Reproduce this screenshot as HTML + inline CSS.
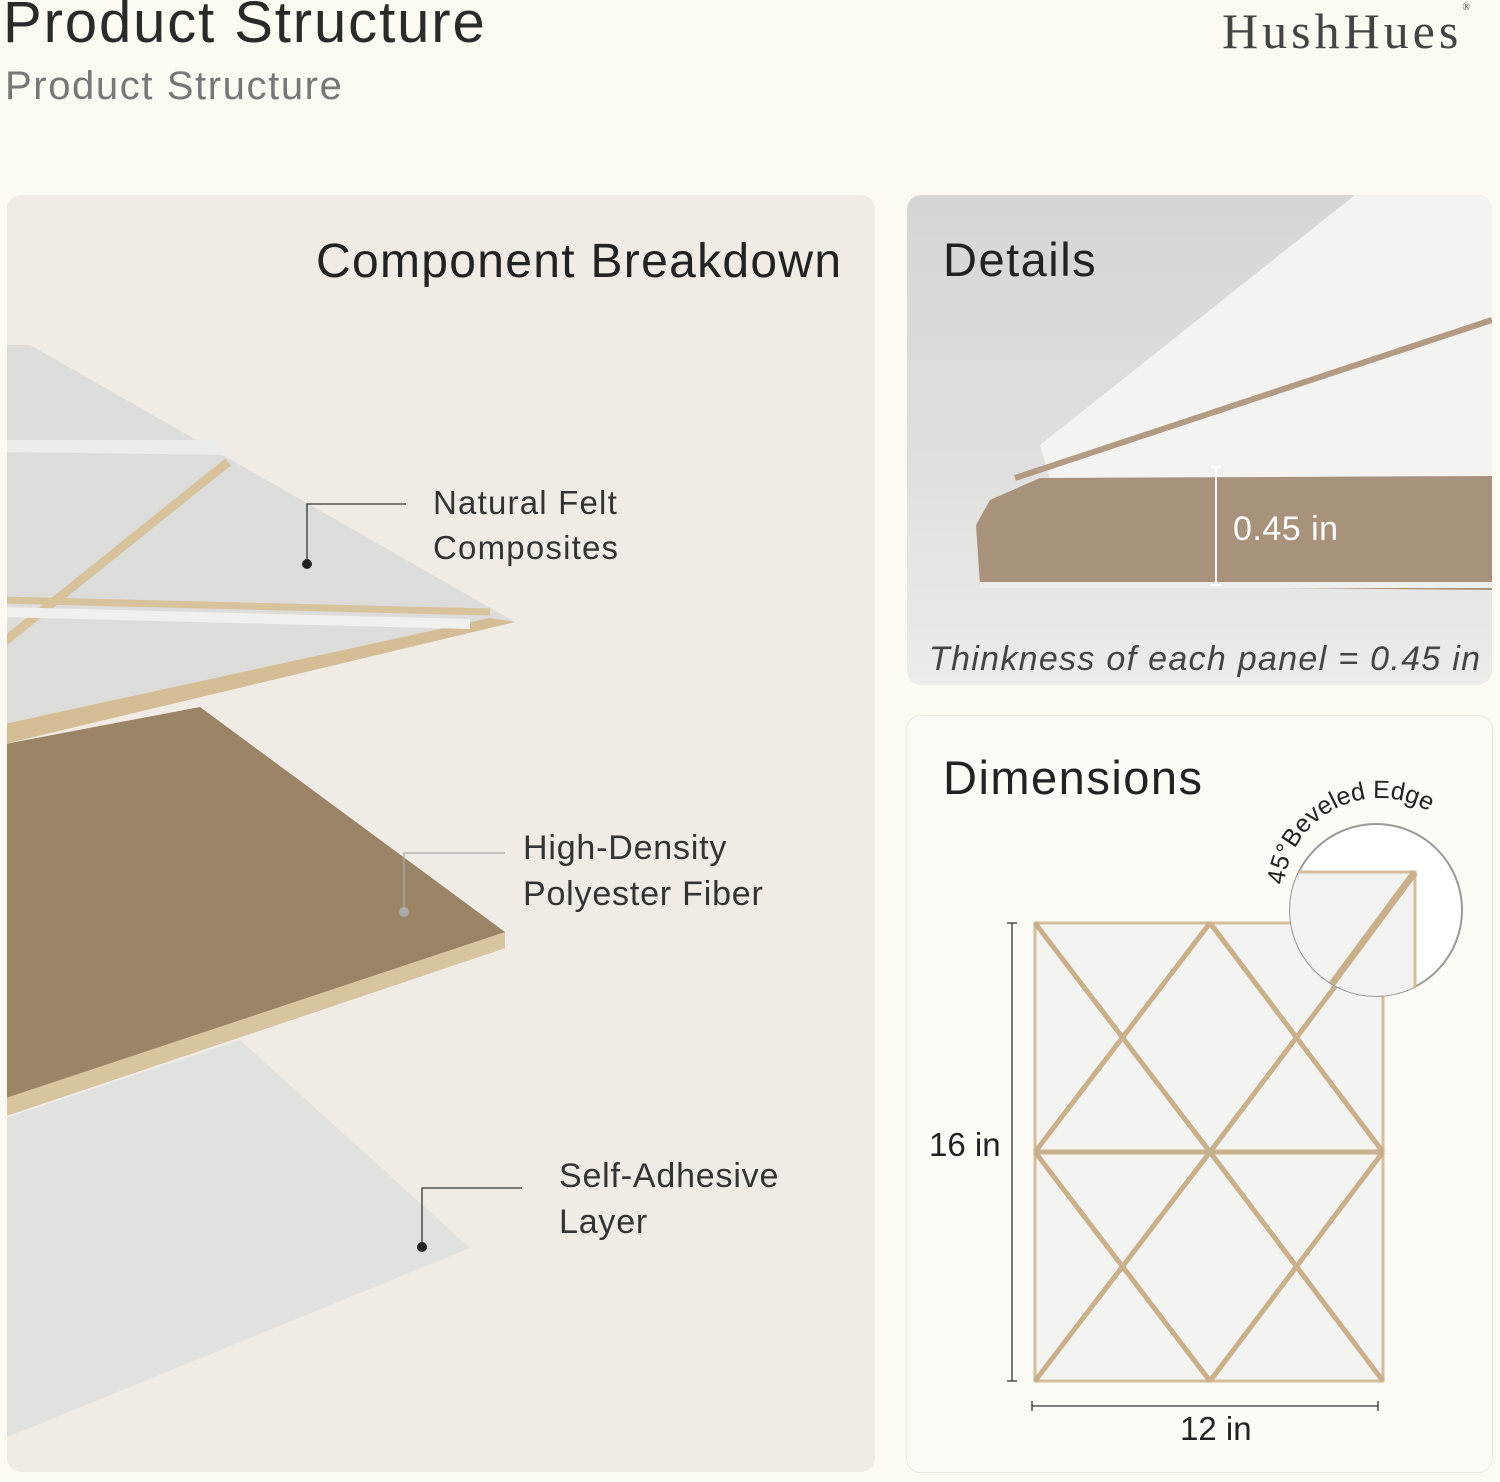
<!DOCTYPE html>
<html><head><meta charset="utf-8"><style>
body{margin:0;width:1500px;height:1482px;background:#fdfaf3;font-family:"Liberation Sans",sans-serif;position:relative;overflow:hidden;color:#222}
.t{position:absolute;white-space:nowrap}
</style></head><body>
<div class="t" style="left:3px;top:-11px;font-size:58px;letter-spacing:1.9px;color:#2a2a2a">Product Structure</div>
<div class="t" style="left:5px;top:64px;font-size:40px;letter-spacing:1.6px;color:#777">Product Structure</div>
<div class="t" style="left:1222px;top:2px;font-size:50px;color:#444;font-family:'Liberation Serif',serif;letter-spacing:4px">HushHues<span style="font-size:10px;vertical-align:top;letter-spacing:0">®</span></div>

<svg style="position:absolute;left:0;top:0" width="1500" height="1482">
<defs>
<linearGradient id="dg" x1="0" y1="0" x2="0" y2="1"><stop offset="0" stop-color="#d6d6d4"/><stop offset="0.5" stop-color="#dedede"/><stop offset="1" stop-color="#ececea"/></linearGradient>
<clipPath id="lc"><rect x="7" y="195" width="868" height="1277" rx="14"/></clipPath>
<clipPath id="dc"><rect x="907" y="195" width="585" height="490" rx="14"/></clipPath>
<clipPath id="cc"><circle cx="1376" cy="910" r="86"/></clipPath>
</defs>
<rect x="7" y="195" width="868" height="1277" rx="14" fill="#f0ebe4"/>
<g clip-path="url(#lc)">
<polygon points="0,1120 240,1040 470,1248 0,1440" fill="#e1e1df"/>
<polygon points="0,745 200,707 505,932 505,948 0,1118" fill="#9b8466"/>
<polygon points="505,932 505,948 0,1118 0,1100" fill="#d9c4a0"/>
<polygon points="0,345 30,345 515,622 0,745" fill="#dcdcda"/>
<polygon points="515,622 0,745 0,725 490,618" fill="#d4bd94"/>
<polygon points="0,440 215,440 235,455 0,452" fill="#ececea"/>
<line x1="228" y1="462" x2="0" y2="645" stroke="#d8c29c" stroke-width="9"/>
<line x1="0" y1="600" x2="490" y2="612" stroke="#d8c29c" stroke-width="7"/>
<line x1="0" y1="612" x2="470" y2="624" stroke="#f0f0ee" stroke-width="10"/>
</g>
<g stroke="#333" stroke-width="1.3" fill="none">
<polyline points="406,504 307,504 307,564"/>
<polyline points="505,853 404,853 404,912" stroke="#aaa"/>
<polyline points="522,1188 422,1188 422,1247"/>
</g>
<circle cx="307" cy="564" r="5" fill="#222"/><circle cx="404" cy="912" r="5" fill="#aaa"/><circle cx="422" cy="1247" r="5" fill="#222"/>

<g clip-path="url(#dc)">
<rect x="907" y="195" width="585" height="490" fill="url(#dg)"/>
<polygon points="1040,445 1355,195 1492,195 1492,478 1050,480" fill="#f3f3f1"/>
<line x1="1015" y1="478" x2="1492" y2="320" stroke="#b39a83" stroke-width="6"/>
<polygon points="976,525 990,500 1040,478 1492,476 1492,590 980,585" fill="#a8927c"/>
<rect x="980" y="582" width="512" height="6" fill="#eeeeec"/>
</g>
<g stroke="#fff" stroke-width="2"><line x1="1216" y1="467" x2="1216" y2="585"/><line x1="1211" y1="467" x2="1221" y2="467"/><line x1="1211" y1="585" x2="1221" y2="585"/></g>

<rect x="906.5" y="715.5" width="586" height="757" rx="14" fill="#fcfbf6" stroke="#eeeae2"/>
<rect x="1035" y="923" width="348" height="458" fill="#f3f3f1" stroke="#d3bd9a" stroke-width="3"/>
<g stroke="#c9b08a" stroke-width="5" fill="none">
<line x1="1035" y1="923" x2="1210" y2="1152"/><line x1="1210" y1="923" x2="1035" y2="1152"/>
<line x1="1210" y1="923" x2="1383" y2="1152"/><line x1="1383" y1="923" x2="1210" y2="1152"/>
<line x1="1035" y1="1152" x2="1383" y2="1152"/>
<line x1="1035" y1="1152" x2="1210" y2="1381"/><line x1="1210" y1="1152" x2="1035" y2="1381"/>
<line x1="1210" y1="1152" x2="1383" y2="1381"/><line x1="1383" y1="1152" x2="1210" y2="1381"/>
</g>
<circle cx="1376" cy="910" r="86" fill="#fff" stroke="#999" stroke-width="2"/>
<g clip-path="url(#cc)">
<polygon points="1280,872 1415,872 1415,1000 1280,1000" fill="#f2f2f0" stroke="#d3bd9a" stroke-width="3"/>
<line x1="1415" y1="872" x2="1320" y2="1000" stroke="#c9b08a" stroke-width="7"/>
</g>
<path id="arc" d="M1284,885 A96,96 0 0 1 1472,868" fill="none"/>
<text font-family="Liberation Sans" font-size="25" fill="#222"><textPath href="#arc">45°Beveled Edge</textPath></text>
<g stroke="#333" stroke-width="1.3"><line x1="1012" y1="923" x2="1012" y2="1381"/><line x1="1007" y1="923" x2="1017" y2="923"/><line x1="1007" y1="1381" x2="1017" y2="1381"/>
<line x1="1032" y1="1406" x2="1378" y2="1406"/><line x1="1032" y1="1401" x2="1032" y2="1411"/><line x1="1378" y1="1401" x2="1378" y2="1411"/></g>
</svg>

<div class="t" style="left:316px;top:234px;font-size:48px;letter-spacing:1.3px;color:#222">Component Breakdown</div>
<div class="t" style="left:433px;top:480px;font-size:33px;line-height:45px;letter-spacing:1.2px;color:#333">Natural Felt<br>Composites</div>
<div class="t" style="left:523px;top:825px;font-size:34px;line-height:46px;letter-spacing:0.8px;color:#333">High-Density<br>Polyester Fiber</div>
<div class="t" style="left:559px;top:1153px;font-size:34px;line-height:46px;letter-spacing:0.8px;color:#333">Self-Adhesive<br>Layer</div>
<div class="t" style="left:943px;top:232px;font-size:47px;letter-spacing:1.5px;color:#222">Details</div>
<div class="t" style="left:1233px;top:510px;font-size:34px;letter-spacing:0.5px;color:#fff">0.45 in</div>
<div class="t" style="left:929px;top:640px;font-size:34px;letter-spacing:1.3px;color:#444;font-style:italic">Thinkness of each panel = 0.45 in</div>
<div class="t" style="left:943px;top:750px;font-size:47px;letter-spacing:1.5px;color:#222">Dimensions</div>
<div class="t" style="left:929px;top:1126px;font-size:33px;color:#222">16 in</div>
<div class="t" style="left:1180px;top:1410px;font-size:33px;color:#222">12 in</div>
</body></html>
